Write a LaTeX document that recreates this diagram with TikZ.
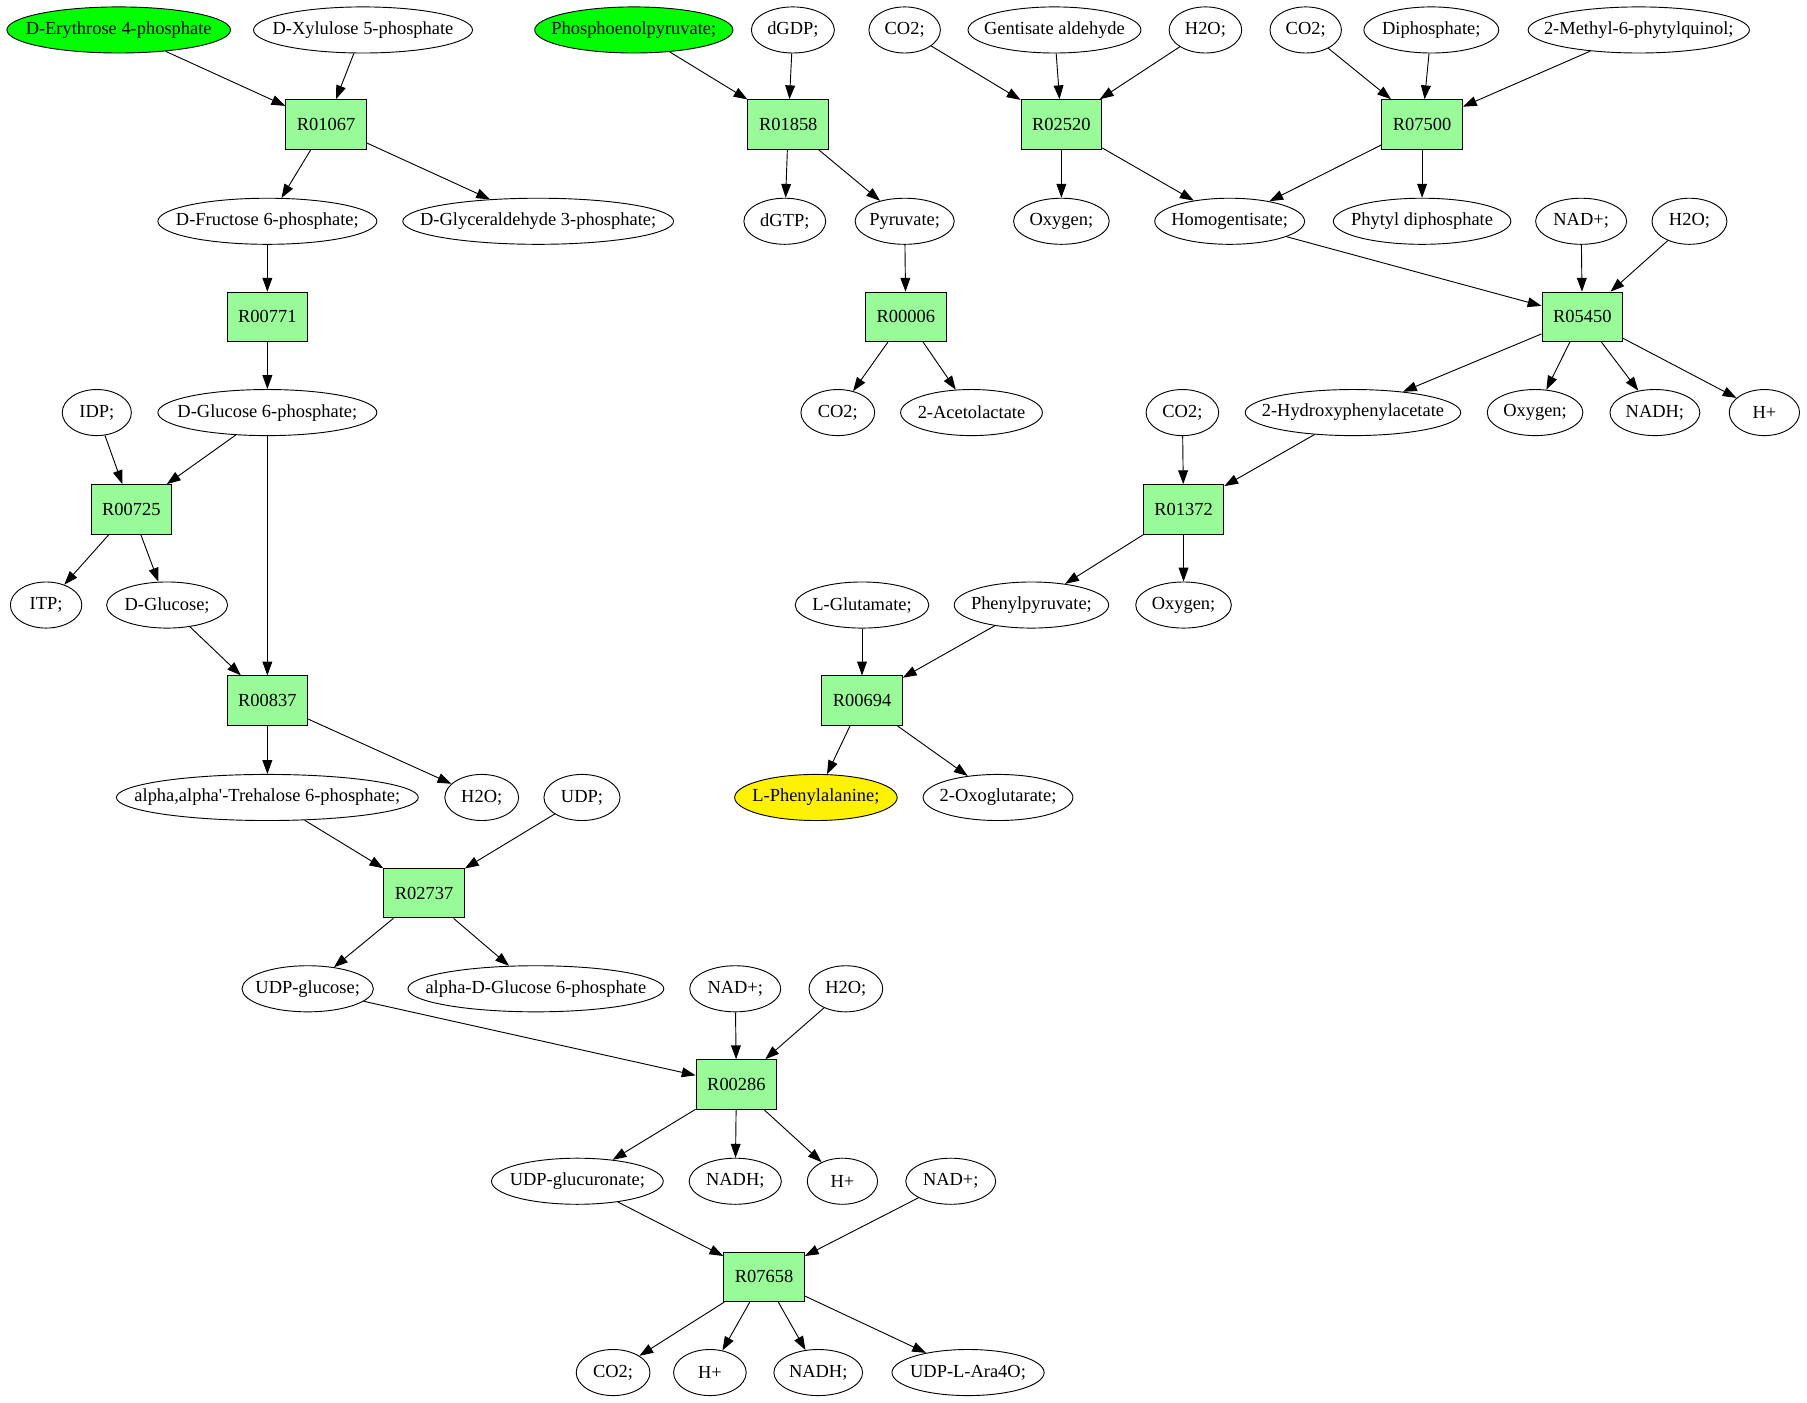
\documentclass[tikz,border=0pt]{standalone}
\usepackage{fontspec}
\setmainfont{Liberation Serif}[Ligatures=TeXOff]
\usetikzlibrary{shapes.geometric,arrows.meta}
\definecolor{palegreen}{HTML}{98FB98}
\begin{document}
\begin{tikzpicture}[x=1pt,y=-1pt,
    metab/.style={ellipse,draw,line width=0.8pt,inner xsep=-40pt,inner ysep=0pt,
      minimum height=40pt,font=\fontsize{16}{19}\selectfont},
    react/.style={rectangle,draw,line width=0.8pt,fill=palegreen,
      minimum width=70pt,minimum height=43pt,font=\fontsize{16}{19}\selectfont},
    arr/.style={-{Triangle[length=12pt,width=8.5pt]},line width=0.8pt}]
      \useasboundingbox (0,0) rectangle (1568,1217);
      % first row
      \node[metab,fill=green,minimum width=194pt] (ery) at (103,26) {D-Erythrose 4-phosphate};
      \node[metab,minimum width=190pt] (xyl) at (315,26) {D-Xylulose 5-phosphate};
      \node[metab,fill=green,minimum width=172pt] (pep) at (550,26) {Phosphoenolpyruvate;};
      \node[metab,minimum width=72pt] (dgdp) at (688,26) {dGDP;};
      \node[metab,minimum width=62pt] (co2a) at (785,26) {CO2;};
      \node[metab,minimum width=150pt] (gald) at (915,26) {Gentisate aldehyde};
      \node[metab,minimum width=63pt] (h2oa) at (1046,26) {H2O;};
      \node[metab,minimum width=62pt] (co2b) at (1133,26) {CO2;};
      \node[metab,minimum width=117pt] (diph) at (1242,26) {Diphosphate;};
      \node[metab,minimum width=192pt] (mpq) at (1422,26) {2-Methyl-6-phytylquinol;};
      \node[react] (r01067) at (283,108) {R01067};
      \node[react] (r01858) at (684,108) {R01858};
      \node[react] (r02520) at (921,108) {R02520};
      \node[react] (r07500) at (1234,108) {R07500};
      \node[metab,minimum width=190pt] (fru) at (232,192) {D-Fructose 6-phosphate;};
      \node[metab,minimum width=235pt] (gap) at (467,192) {D-Glyceraldehyde 3-phosphate;};
      \node[metab,minimum width=71pt] (dgtp) at (681,192) {dGTP;};
      \node[metab,minimum width=86pt] (pyr) at (785,192) {Pyruvate;};
      \node[metab,minimum width=83pt] (oxya) at (921,192) {Oxygen;};
      \node[metab,minimum width=130pt] (hgen) at (1067,192) {Homogentisate;};
      \node[metab,minimum width=154pt] (phdp) at (1234,192) {Phytyl diphosphate};
      \node[metab,minimum width=79pt] (nada) at (1372,192) {NAD+;};
      \node[metab,minimum width=65pt] (h2ob) at (1466,192) {H2O;};
      \node[react] (r00771) at (232,275) {R00771};
      \node[react] (r00006) at (786,275) {R00006};
      \node[react] (r05450) at (1373,275) {R05450};
      \node[metab,minimum width=60pt] (idp) at (84,358) {IDP;};
      \node[metab,minimum width=190pt] (g6p) at (232,358) {D-Glucose 6-phosphate;};
      \node[metab,minimum width=64pt] (co2c) at (727,358) {CO2;};
      \node[metab,minimum width=123pt] (acl) at (843,358) {2-Acetolactate};
      \node[metab,minimum width=63pt] (co2d) at (1026,358) {CO2;};
      \node[metab,minimum width=187pt] (hpa) at (1174,358) {2-Hydroxyphenylacetate};
      \node[metab,minimum width=83pt] (oxyb) at (1332,358) {Oxygen;};
      \node[metab,minimum width=78pt] (nadha) at (1436,358) {NADH;};
      \node[metab,minimum width=61pt] (hpla) at (1531,358) {H+};
      \node[react] (r00725) at (114,442) {R00725};
      \node[react] (r01372) at (1027,442) {R01372};
      \node[metab,minimum width=62pt] (itp) at (40,525) {ITP;};
      \node[metab,minimum width=105pt] (glc) at (145,525) {D-Glucose;};
      \node[metab,minimum width=116pt] (glu) at (748,525) {L-Glutamate;};
      \node[metab,minimum width=134pt] (ppyr) at (895,525) {Phenylpyruvate;};
      \node[metab,minimum width=83pt] (oxyc) at (1027,525) {Oxygen;};
      \node[react] (r00837) at (232,608) {R00837};
      \node[react] (r00694) at (748,608) {R00694};
      \node[metab,minimum width=262pt] (tre) at (232,692) {alpha,alpha'-Trehalose 6-phosphate;};
      \node[metab,minimum width=64pt] (h2oc) at (418,692) {H2O;};
      \node[metab,minimum width=66pt] (udp) at (505,692) {UDP;};
      \node[metab,fill=yellow,minimum width=141pt] (phe) at (708,692) {L-Phenylalanine;};
      \node[metab,minimum width=130pt] (oxg) at (866,692) {2-Oxoglutarate;};
      \node[react] (r02737) at (368,775) {R02737};
      \node[metab,minimum width=114pt] (udpg) at (267,858) {UDP-glucose;};
      \node[metab,minimum width=222pt] (ag6p) at (465,858) {alpha-D-Glucose 6-phosphate};
      \node[metab,minimum width=79pt] (nadb) at (638,858) {NAD+;};
      \node[metab,minimum width=64pt] (h2od) at (734,858) {H2O;};
      \node[react] (r00286) at (639,941) {R00286};
      \node[metab,minimum width=149pt] (udpga) at (501,1025) {UDP-glucuronate;};
      \node[metab,minimum width=80pt] (nadhb) at (638,1025) {NADH;};
      \node[metab,minimum width=61pt] (hplb) at (731,1025) {H+};
      \node[metab,minimum width=78pt] (nadc) at (825,1025) {NAD+;};
      \node[react] (r07658) at (663,1108) {R07658};
      \node[metab,minimum width=64pt] (co2e) at (532,1191) {CO2;};
      \node[metab,minimum width=63pt] (hplc) at (616,1191) {H+};
      \node[metab,minimum width=77pt] (nadhc) at (710,1191) {NADH;};
      \node[metab,minimum width=132pt] (ara) at (840,1191) {UDP-L-Ara4O;};
      % reactions
      \foreach \a/\b in {ery/r01067,xyl/r01067,r01067/fru,r01067/gap,fru/r00771,r00771/g6p,
          idp/r00725,g6p/r00725,r00725/itp,r00725/glc,glc/r00837,g6p/r00837,
          r00837/tre,r00837/h2oc,tre/r02737,udp/r02737,r02737/udpg,r02737/ag6p,
          udpg/r00286,nadb/r00286,h2od/r00286,r00286/udpga,r00286/nadhb,r00286/hplb,
          udpga/r07658,nadc/r07658,r07658/co2e,r07658/hplc,r07658/nadhc,r07658/ara,
          pep/r01858,dgdp/r01858,r01858/dgtp,r01858/pyr,pyr/r00006,r00006/co2c,r00006/acl,
          co2a/r02520,gald/r02520,h2oa/r02520,r02520/oxya,r02520/hgen,
          co2b/r07500,diph/r07500,mpq/r07500,r07500/hgen,r07500/phdp,
          hgen/r05450,nada/r05450,h2ob/r05450,r05450/hpa,r05450/oxyb,r05450/nadha,r05450/hpla,
          co2d/r01372,hpa/r01372,r01372/ppyr,r01372/oxyc,
          glu/r00694,ppyr/r00694,r00694/phe,r00694/oxg}
        \draw[arr] (\a) -- (\b);
    \end{tikzpicture}
\end{document}
